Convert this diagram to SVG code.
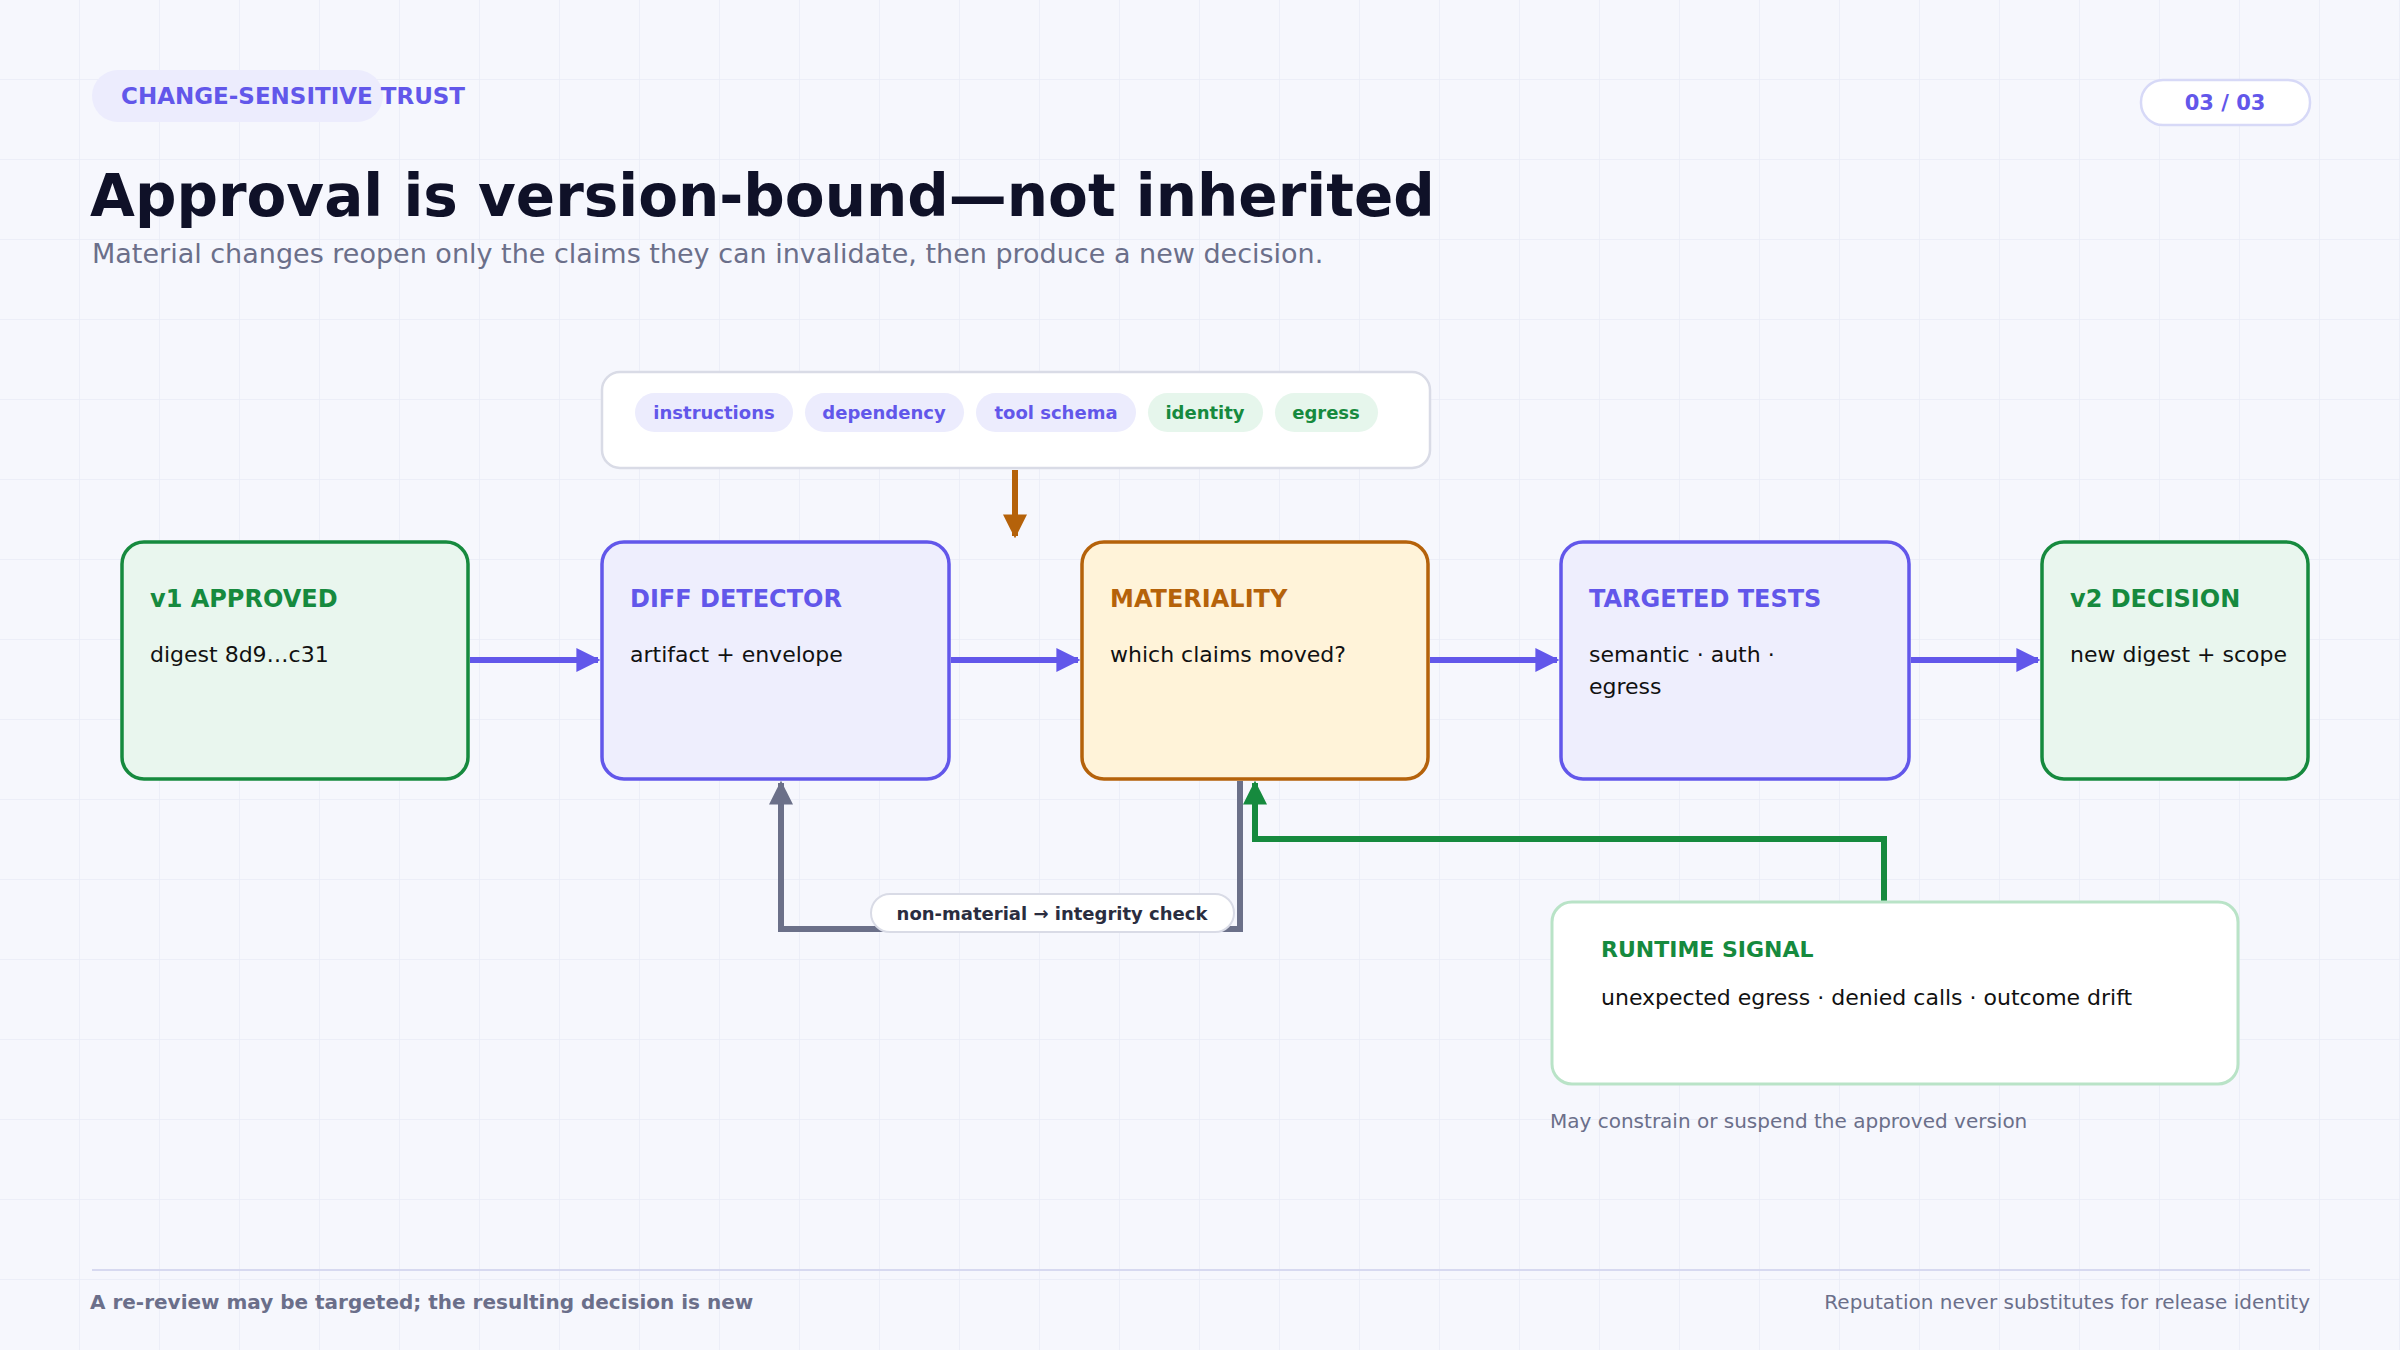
<svg xmlns="http://www.w3.org/2000/svg" width="2400" height="1350" viewBox="0 0 2400 1350">
<defs>
<pattern id="grid" width="80" height="80" patternUnits="userSpaceOnUse"><path d="M80 0V80M0 80H80" fill="none" stroke="#e9ecf6" stroke-width="1.5"/></pattern>
<marker id="ap" viewBox="0 0 10 10" refX="9" refY="5" markerWidth="4" markerHeight="4" orient="auto"><path d="M0 0L10 5L0 10z" fill="#6257ea"/></marker>
<marker id="ao" viewBox="0 0 10 10" refX="9" refY="5" markerWidth="4" markerHeight="4" orient="auto"><path d="M0 0L10 5L0 10z" fill="#b5620a"/></marker>
<marker id="ag" viewBox="0 0 10 10" refX="9" refY="5" markerWidth="4" markerHeight="4" orient="auto"><path d="M0 0L10 5L0 10z" fill="#168a3e"/></marker>
<marker id="ay" viewBox="0 0 10 10" refX="9" refY="5" markerWidth="4" markerHeight="4" orient="auto"><path d="M0 0L10 5L0 10z" fill="#6b7089"/></marker>
</defs>
<style>
text{font-family:"DejaVu Sans",sans-serif}
.t{font-size:24px;font-weight:bold}
.b{font-size:22px;fill:#111}
.chip{font-size:18px;font-weight:bold}
.node{stroke-width:3.5}
</style>
<rect width="2400" height="1350" fill="#f6f7fd"/>
<rect width="2400" height="1350" fill="url(#grid)"/>
<rect x="92" y="70" width="291" height="52" rx="26" fill="#ececfd"/>
<text x="121" y="104" font-size="23" font-weight="bold" fill="#6257ea">CHANGE-SENSITIVE TRUST</text>
<rect x="2141" y="80" width="169" height="45" rx="22" fill="#fff" stroke="#d7d9f7" stroke-width="2.5"/>
<text x="2225" y="110" font-size="21" font-weight="bold" fill="#6257ea" text-anchor="middle">03 / 03</text>
<text x="90" y="216" font-size="58" font-weight="bold" fill="#0f1128">Approval is version-bound—not inherited</text>
<text x="92" y="263" font-size="27" fill="#6b6f8a">Material changes reopen only the claims they can invalidate, then produce a new decision.</text>

<g id="tags">
<rect x="602" y="372" width="828" height="96" rx="18" fill="#fff" stroke="#d9dbe6" stroke-width="2.5"/>
<rect x="635" y="393" width="158" height="39" rx="19.5" fill="#ececfd"/><text x="714" y="419" class="chip" fill="#6257ea" text-anchor="middle">instructions</text>
<rect x="805" y="393" width="159" height="39" rx="19.5" fill="#ececfd"/><text x="884" y="419" class="chip" fill="#6257ea" text-anchor="middle">dependency</text>
<rect x="976" y="393" width="160" height="39" rx="19.5" fill="#ececfd"/><text x="1056" y="419" class="chip" fill="#6257ea" text-anchor="middle">tool schema</text>
<rect x="1148" y="393" width="115" height="39" rx="19.5" fill="#e6f6ec"/><text x="1205" y="419" class="chip" fill="#168a3e" text-anchor="middle">identity</text>
<rect x="1275" y="393" width="103" height="39" rx="19.5" fill="#e6f6ec"/><text x="1326" y="419" class="chip" fill="#168a3e" text-anchor="middle">egress</text>
</g>

<g id="connectors" fill="none">
<path d="M1015 470V536" stroke="#b5620a" stroke-width="6" marker-end="url(#ao)"/>
<path d="M470 660H598" stroke="#6257ea" stroke-width="6" marker-end="url(#ap)"/>
<path d="M951 660H1078" stroke="#6257ea" stroke-width="6" marker-end="url(#ap)"/>
<path d="M1430 660H1557" stroke="#6257ea" stroke-width="6" marker-end="url(#ap)"/>
<path d="M1911 660H2038" stroke="#6257ea" stroke-width="6" marker-end="url(#ap)"/>
<path d="M1240 781V929H781V783" stroke="#6b7089" stroke-width="6" marker-end="url(#ay)"/>
<path d="M1884 902V839H1255V783" stroke="#168a3e" stroke-width="6" marker-end="url(#ag)"/>
<rect x="871" y="894" width="363" height="38" rx="19" fill="#fff" stroke="#d9dbe6" stroke-width="2"/>
<text x="1052" y="920" font-size="18" font-weight="bold" fill="#2a2d40" text-anchor="middle">non-material → integrity check</text>
</g>

<g id="v1"><rect x="122" y="542" width="346" height="237" rx="22" fill="#e9f6ee" stroke="#168a3e" class="node"/>
<text x="150" y="607" class="t" fill="#168a3e">v1 APPROVED</text><text x="150" y="662" class="b">digest 8d9…c31</text></g>
<g id="diff"><rect x="602" y="542" width="347" height="237" rx="22" fill="#eeeefd" stroke="#6257ea" class="node"/>
<text x="630" y="607" class="t" fill="#6257ea">DIFF DETECTOR</text><text x="630" y="662" class="b">artifact + envelope</text></g>
<g id="materiality"><rect x="1082" y="542" width="346" height="237" rx="22" fill="#fff3d9" stroke="#b5620a" class="node"/>
<text x="1110" y="607" class="t" fill="#b5620a">MATERIALITY</text><text x="1110" y="662" class="b">which claims moved?</text></g>
<g id="tests"><rect x="1561" y="542" width="348" height="237" rx="22" fill="#eeeefd" stroke="#6257ea" class="node"/>
<text x="1589" y="607" class="t" fill="#6257ea">TARGETED TESTS</text><text x="1589" y="662" class="b">semantic · auth ·</text><text x="1589" y="694" class="b">egress</text></g>
<g id="v2"><rect x="2042" y="542" width="266" height="237" rx="22" fill="#e9f6ee" stroke="#168a3e" class="node"/>
<text x="2070" y="607" class="t" fill="#168a3e">v2 DECISION</text><text x="2070" y="662" class="b">new digest + scope</text></g>
<g id="runtime"><rect x="1552" y="902" width="686" height="182" rx="20" fill="#fff" stroke="#b9e3c7" stroke-width="3"/>
<text x="1601" y="957" font-size="22" font-weight="bold" fill="#168a3e">RUNTIME SIGNAL</text>
<text x="1601" y="1005" class="b">unexpected egress · denied calls · outcome drift</text></g>
<text x="1550" y="1128" font-size="20" fill="#6b6f8a">May constrain or suspend the approved version</text>

<line x1="92" y1="1270" x2="2310" y2="1270" stroke="#d7d9f0" stroke-width="2"/>
<text x="90" y="1309" font-size="20" font-weight="bold" fill="#6b6f8a">A re-review may be targeted; the resulting decision is new</text>
<text x="2310" y="1309" font-size="20" fill="#6b6f8a" text-anchor="end">Reputation never substitutes for release identity</text>
</svg>
